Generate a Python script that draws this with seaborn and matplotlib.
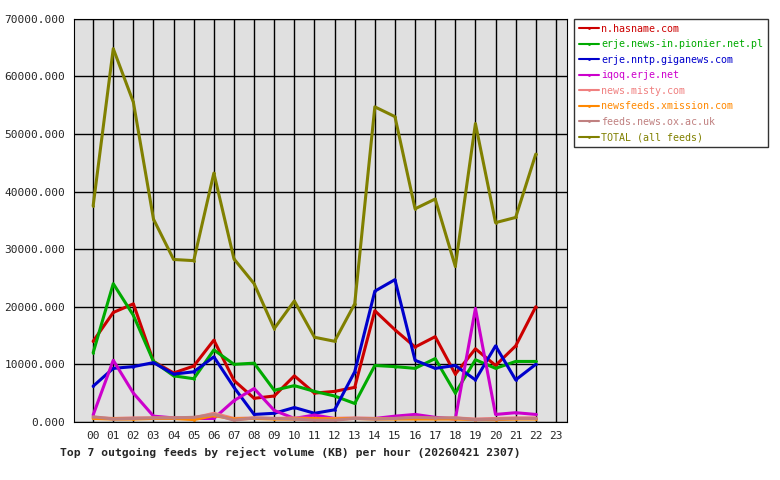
import numpy as np, pandas as pd
import matplotlib
matplotlib.use('Agg')
import matplotlib.pyplot as plt
import seaborn as sns
from matplotlib.ticker import FuncFormatter

hours = list(range(23))
hour_labels = [f'{h:02d}' for h in range(24)]
hasname = [14000, 19000, 20500, 10500, 8500, 9700, 14200, 7200, 4100, 4500, 8000, 5000,
           5300, 6000, 19300, 16000, 13000, 14800, 8300, 12700, 9800, 13200, 20000]
pionier = [12000, 24000, 18500, 10500, 8000, 7500, 12500, 10000, 10200, 5500, 6300, 5300,
           4500, 3200, 9800, 9600, 9300, 11000, 5000, 10800, 9300, 10500, 10500]
giganews = [6200, 9300, 9600, 10300, 8300, 8700, 11300, 6000, 1300, 1500, 2500, 1500,
            2100, 8700, 22700, 24700, 10700, 9300, 9800, 7300, 13200, 7300, 10000]
iqoq = [1200, 10700, 5000, 1000, 700, 600, 600, 3700, 5800, 2000, 600, 1200,
        600, 600, 600, 1000, 1300, 800, 500, 19700, 1300, 1600, 1300]
misty = [800, 600, 700, 700, 700, 700, 1500, 600, 700, 600, 700, 600,
         600, 700, 600, 600, 700, 600, 700, 500, 600, 700, 700]
xmission = [600, 500, 500, 600, 600, 400, 1100, 500, 600, 500, 500, 600,
            500, 600, 500, 500, 500, 500, 500, 400, 400, 500, 500]
oxac = [900, 500, 600, 700, 700, 800, 1300, 300, 700, 600, 500, 300,
        300, 600, 500, 600, 800, 700, 700, 400, 500, 600, 600]
total = [37500, 64800, 55500, 35200, 28200, 28000, 43200, 28300, 24000, 16200, 21000, 14700,
         14000, 20500, 54700, 53000, 37000, 38700, 27000, 51800, 34600, 35500, 46500]

feeds = ['n.hasname.com', 'erje.news-in.pionier.net.pl', 'erje.nntp.giganews.com',
         'iqoq.erje.net', 'news.misty.com', 'newsfeeds.xmission.com',
         'feeds.news.ox.ac.uk', 'TOTAL (all feeds)']
series = [hasname, pionier, giganews, iqoq, misty, xmission, oxac, total]
colors = ['#cc0000', '#00aa00', '#0000cc', '#cc00cc', '#f08080', '#ff8800', '#c08080', '#808000']

df = pd.DataFrame({'hour': hours * len(feeds),
                   'kb': sum(series, []),
                   'feed': np.repeat(feeds, len(hours))})

sns.set_style('white')
plt.rcParams['font.family'] = ['DejaVu Sans Mono']
fig = plt.figure(figsize=(7.8, 4.8), dpi=100)
ax = fig.add_axes([0.0949, 0.121, 0.632, 0.84])
ax.set_facecolor('#e0e0e0')
sns.lineplot(data=df, x='hour', y='kb', hue='feed', hue_order=feeds, palette=colors,
             linewidth=2.2, marker='o', markersize=2, markeredgewidth=0, ax=ax)
ax.set_xlim(-0.95, 23.55)
ax.set_ylim(0, 70000)
ax.set_xticks(range(24))
ax.set_xticklabels(hour_labels, fontsize=8)
ax.set_yticks(range(0, 70001, 10000))
ax.yaxis.set_major_formatter(FuncFormatter(lambda v, p: f'{v:.3f}'))
ax.tick_params(axis='y', labelsize=8, length=3)
ax.tick_params(axis='x', length=3)
ax.grid(True, color='black', linewidth=1)
ax.set_axisbelow(True)
for s in ax.spines.values():
    s.set_color('black')
ax.set_xlabel('')
ax.set_ylabel('')
ax.legend(loc='upper left', bbox_to_anchor=(1.015, 1.0), frameon=True, fancybox=False,
          edgecolor='black', fontsize=7.2, handlelength=2.0, borderaxespad=0,
          labelspacing=0.55, handletextpad=0.2, borderpad=0.5)
leg = ax.get_legend()
for t, c in zip(leg.get_texts(), colors):
    t.set_color(c)
for h in leg.get_lines():
    h.set_linewidth(1.5)
fig.text(60 / 780, 1 - 452 / 480, 'Top 7 outgoing feeds by reject volume (KB) per hour (20260421 2307)',
         fontsize=8.2, fontweight='bold', va='center')
fig.savefig('out.png', dpi=100)
